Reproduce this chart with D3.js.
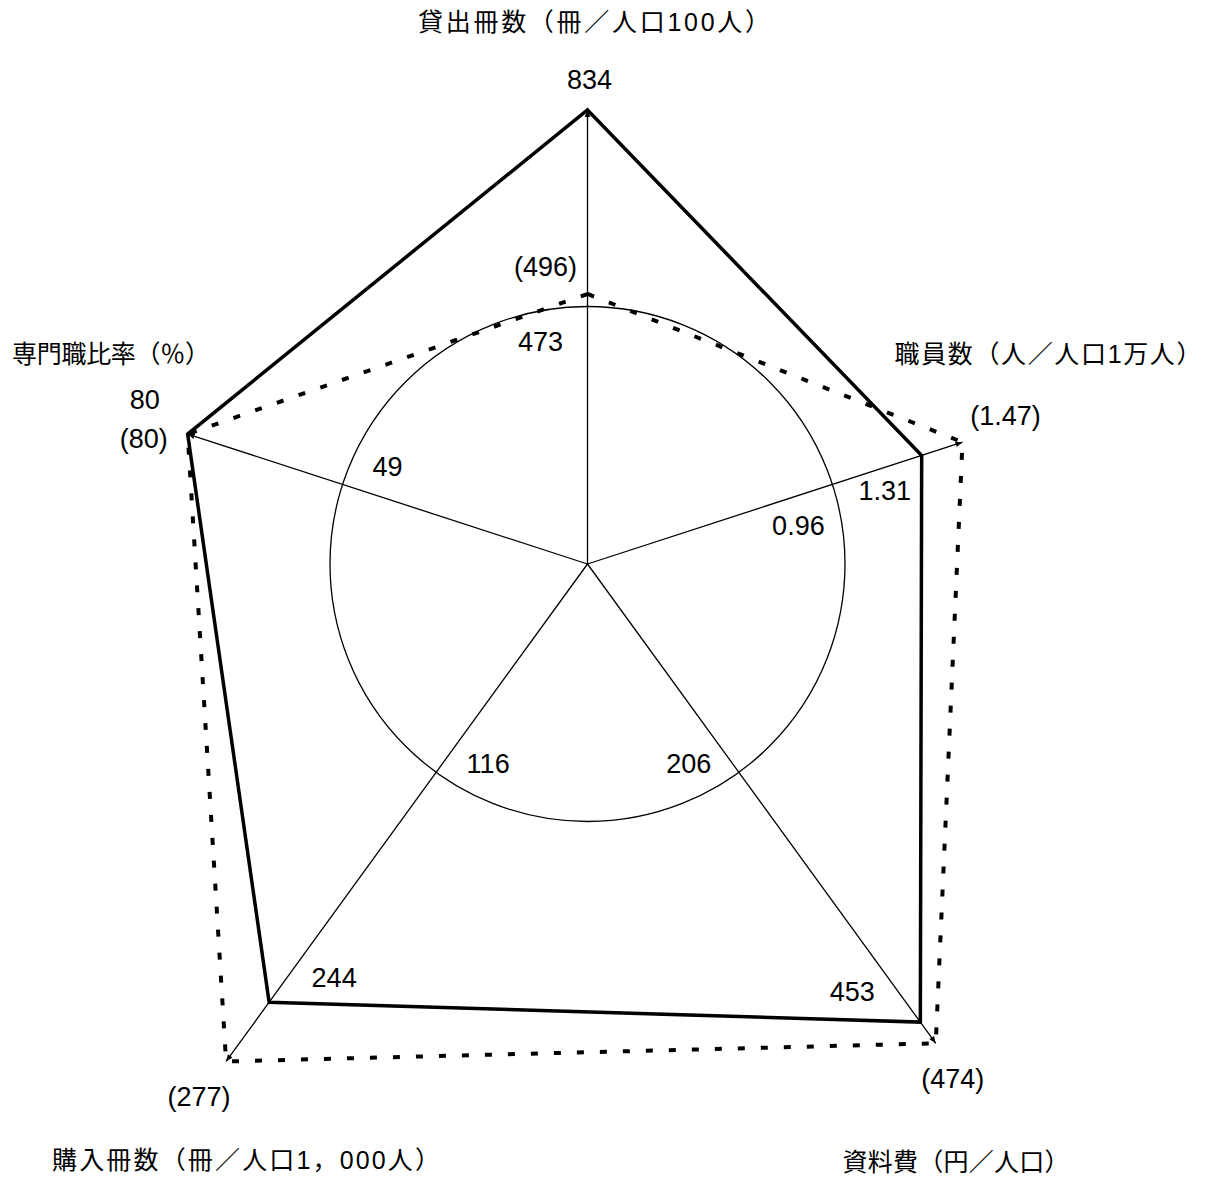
<!DOCTYPE html>
<html>
<head>
<meta charset="utf-8">
<script src="https://cdn.jsdelivr.net/npm/d3@7"></script>
<style>
  html, body { margin: 0; padding: 0; background: #fff; }
  svg { display: block; }
</style>
</head>
<body>
<svg id="chart" width="1214" height="1182"></svg>
<script>
// ---- data ----
const axisTitles = ["貸出冊数（冊／人口100人）", "職員数（人／人口1万人）", "資料費（円／人口）", "購入冊数（冊／人口1，000人）", "専門職比率（％）"];
const cityValues = [834, 1.31, 453, 244, 80];          // solid polygon
const compareValues = [496, 1.47, 474, 277, 80];       // dotted polygon (in parentheses)
const baseValues = [473, 0.96, 206, 116, 49];          // reference circle
const cityLabels = ["834", "1.31", "453", "244", "80"];
const compareLabels = ["(496)", "(1.47)", "(474)", "(277)", "(80)"];
const baseLabels = ["473", "0.96", "206", "116", "49"];

// ---- layout ----
const W = 1214, H = 1182;
const cx = 587.5, cy = 564, R = 257.5;
const layout = {
  cityOff:    [[2, -30], [-37, 36], [-68, -30], [65, -24], [-43, -34]],
  compareOff: [[-42, -27], [43, -26], [17, 36], [-27, 36], [-44, 5]],
  baseOff:    [[-47, 35], [-34, 42], [-50, -8], [52, -8], [45, -17]],
  titlePos:   [[594, 22], [1048, 354], [956, 1162], [246, 1160], [111, 354]],
  titleLen:   [352, 307, 227, 388, 198]
};

const svg = d3.select("#chart");
const g = svg.append("g");

const angle = d3.scaleLinear().domain([0, axisTitles.length]).range([-Math.PI / 2, 1.5 * Math.PI]);
const radial = baseValues.map(b => d3.scaleLinear().domain([0, b]).range([0, R]));

function pt(i, v) {
  const a = angle(i), r = radial[i](v);
  return [cx + r * Math.cos(a), cy + r * Math.sin(a)];
}

// arrow marker
svg.append("defs").append("marker")
  .attr("id", "arr").attr("viewBox", "0 0 10 10").attr("refX", 10).attr("refY", 5)
  .attr("markerWidth", 9).attr("markerHeight", 7).attr("markerUnits", "userSpaceOnUse")
  .attr("orient", "auto")
  .append("path").attr("d", "M0,1 L10,5 L0,9 Z").attr("fill", "#000");

// reference circle
g.append("circle").attr("cx", cx).attr("cy", cy).attr("r", R)
  .attr("fill", "none").attr("stroke", "#000").attr("stroke-width", 1.3);

// axes
const idx = d3.range(axisTitles.length);
g.selectAll("line.axis").data(idx).join("line")
  .attr("class", "axis")
  .attr("x1", cx).attr("y1", cy)
  .attr("x2", i => pt(i, Math.max(cityValues[i], compareValues[i]))[0])
  .attr("y2", i => pt(i, Math.max(cityValues[i], compareValues[i]))[1])
  .attr("stroke", "#000").attr("stroke-width", 1.3)
  .attr("marker-end", "url(#arr)");

// polygons
const closed = d3.line().curve(d3.curveLinearClosed);
g.append("path")
  .attr("d", closed(idx.map(i => pt(i, compareValues[i]))))
  .attr("fill", "none").attr("stroke", "#000").attr("stroke-width", 4)
  .attr("stroke-dasharray", "7,16");
g.append("path")
  .attr("d", closed(idx.map(i => pt(i, cityValues[i]))))
  .attr("fill", "none").attr("stroke", "#000").attr("stroke-width", 3.5)
  .attr("stroke-linejoin", "miter").attr("stroke-miterlimit", 20);

// number labels
const numFont = "'Liberation Sans', Arial, sans-serif";
function numLabels(cls, labels, values, offs) {
  g.selectAll("text." + cls).data(idx).join("text")
    .attr("class", cls)
    .attr("x", i => pt(i, values[i])[0] + offs[i][0])
    .attr("y", i => pt(i, values[i])[1] + offs[i][1])
    .attr("text-anchor", "middle").attr("dominant-baseline", "central")
    .attr("font-family", numFont).attr("font-size", 27).attr("fill", "#000")
    .text(i => labels[i]);
}
numLabels("city", cityLabels, cityValues, layout.cityOff);
numLabels("cmp", compareLabels, compareValues, layout.compareOff);
numLabels("base", baseLabels, baseValues, layout.baseOff);

// axis titles
g.selectAll("text.title").data(idx).join("text")
  .attr("class", "title")
  .attr("x", i => layout.titlePos[i][0])
  .attr("y", i => layout.titlePos[i][1])
  .attr("text-anchor", "middle").attr("dominant-baseline", "central")
  .attr("font-family", "'Liberation Sans', 'Noto Sans CJK JP', sans-serif").attr("font-size", 25)
  .attr("textLength", i => layout.titleLen[i]).attr("lengthAdjust", "spacing")
  .attr("fill", "#000")
  .text(i => axisTitles[i]);
</script>
</body>
</html>
